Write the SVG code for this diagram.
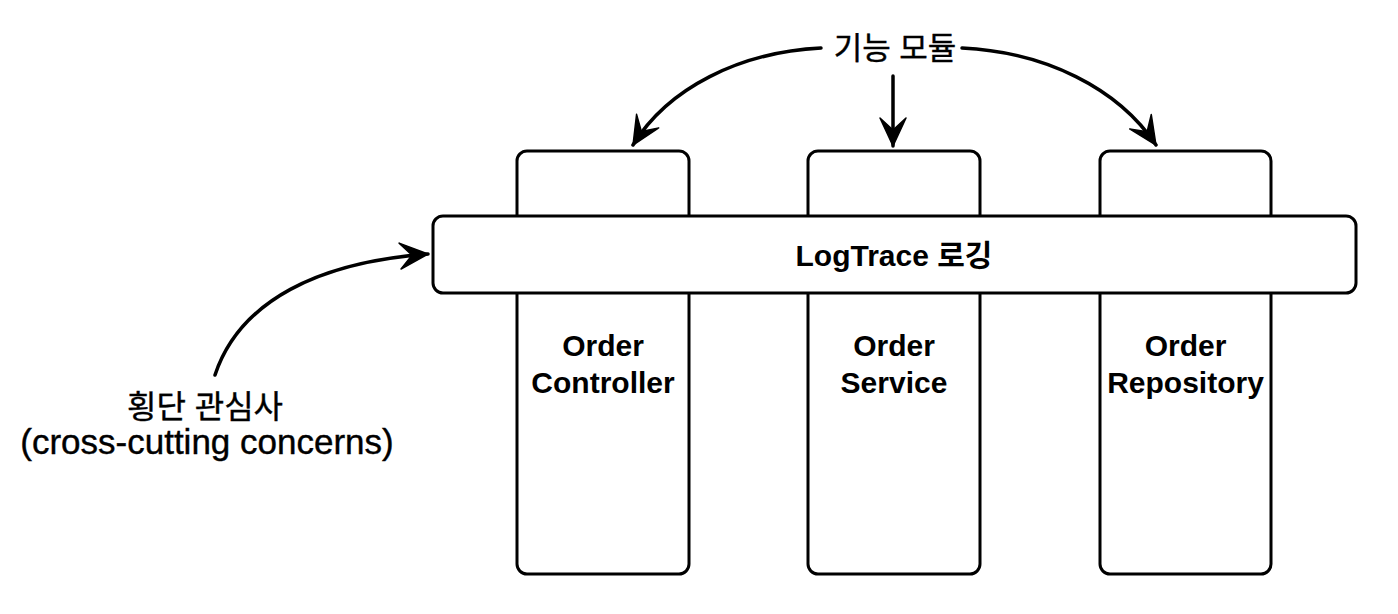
<svg xmlns="http://www.w3.org/2000/svg" width="1398" height="614" viewBox="0 0 1398 614">
  <style>
    .box { fill: #ffffff; stroke: #000000; stroke-width: 3; }
    .lbl { font-family: "Liberation Sans", "Noto Sans CJK KR", sans-serif; font-size: 30px; font-weight: bold; text-anchor: middle; fill: #000000; }
    .note { font-family: "Liberation Sans", "Noto Sans CJK KR", sans-serif; text-anchor: middle; fill: #000000; stroke: #000000; stroke-width: 0.4; }
    .conn { fill: none; stroke: #000000; stroke-width: 3.5; stroke-linecap: round; }
  </style>
  <defs>
    <marker id="head" viewBox="-30 -16 32 32" refX="0" refY="0" markerWidth="32" markerHeight="32" markerUnits="userSpaceOnUse" orient="auto">
      <path d="M0,0 L-28,-13 L-16,0 L-28,13 Z" fill="#000000" stroke="#000000" stroke-width="1.5" stroke-linejoin="round"/>
    </marker>
  </defs>
  <rect width="1398" height="614" fill="#ffffff"/>

  <g id="order-controller">
    <rect class="box" x="517" y="151" width="172" height="423" rx="10"/>
    <text class="lbl" x="603" y="356">Order</text>
    <text class="lbl" x="603" y="393">Controller</text>
  </g>
  <g id="order-service">
    <rect class="box" x="808" y="151" width="172" height="423" rx="10"/>
    <text class="lbl" x="894" y="356">Order</text>
    <text class="lbl" x="894" y="393">Service</text>
  </g>
  <g id="order-repository">
    <rect class="box" x="1100" y="151" width="171" height="423" rx="10"/>
    <text class="lbl" x="1185.5" y="356">Order</text>
    <text class="lbl" x="1185.5" y="393">Repository</text>
  </g>
  <g id="logtrace">
    <rect class="box" x="433" y="216" width="923" height="77" rx="10"/>
    <text class="lbl" x="894" y="266">LogTrace 로깅</text>
  </g>
  <g id="feature-module">
    <text class="note" x="895" y="59" font-size="31">기능 모듈</text>
  </g>
  <g id="cross-cutting">
    <text class="note" x="205" y="418" font-size="32">횡단 관심사</text>
    <text class="note" x="207" y="454" font-size="35">(cross-cutting concerns)</text>
  </g>

  <g id="connectors">
    <path class="conn" d="M 821,48 C 740,52 668,88 633,145" marker-end="url(#head)"/>
    <path class="conn" d="M 893,76 L 893,146" marker-end="url(#head)"/>
    <path class="conn" d="M 962,48 C 1045,52 1118,88 1156,145" marker-end="url(#head)"/>
    <path class="conn" d="M 215,375 C 240,300 320,262 428,254" marker-end="url(#head)"/>
  </g>
</svg>
